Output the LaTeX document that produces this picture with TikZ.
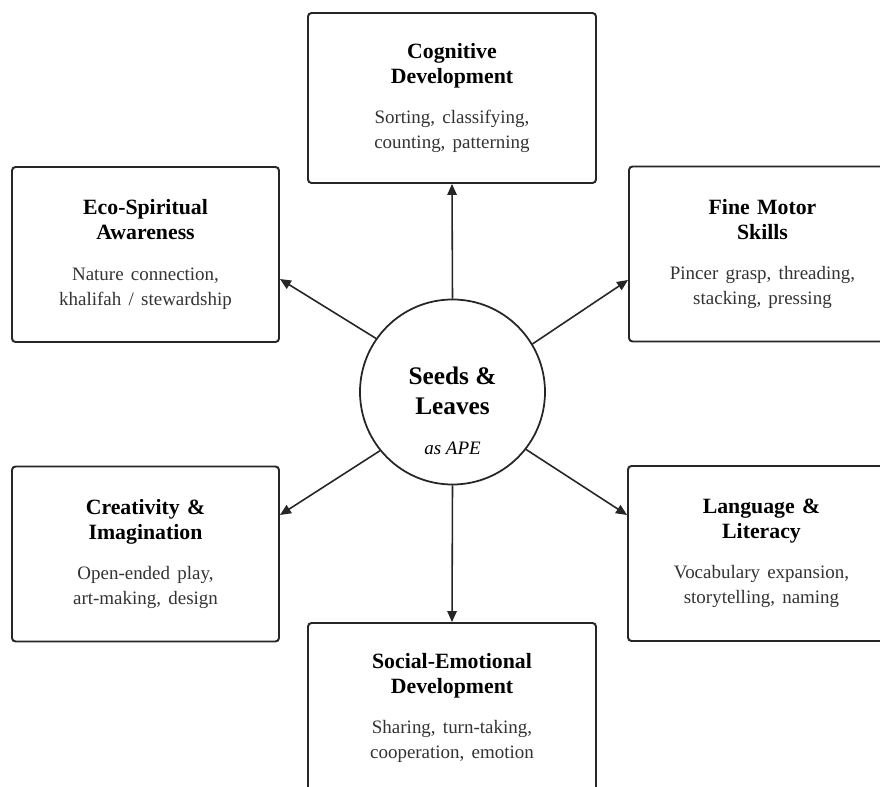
\documentclass[tikz,border=0pt]{standalone}
\usepackage{fontspec}
\setmainfont{Liberation Serif}
\usetikzlibrary{arrows.meta, positioning, calc}
\newcommand{\bdy}{\fontsize{10.8}{12}\selectfont\mdseries\color{black!80}}

\begin{document}
\begin{tikzpicture}[
  area/.style={rectangle, draw=black!85, line width=1.1pt, rounded corners=2pt, fill=white, align=center, text width=4.8cm, minimum width=5.34cm, minimum height=3.5cm, font=\fontsize{12.4}{14.2}\selectfont\bfseries},
  hub/.style={circle, draw=black!85, line width=1pt, minimum size=3.7cm, fill=white},
  arr/.style={-{Triangle[length=2.2mm, width=1.9mm]}, line width=0.9pt, draw=black!85, fill=black!85}
]
\clip (0,0) rectangle (17.6,-15.74);
\fill[white] (0,0) rectangle (17.6,-15.74);
% centre
\node[hub] (seed) at (9.05,-7.84) {};
\node[align=center, font=\fontsize{14.4}{17}\selectfont\bfseries] (seedtxt) at ([yshift=-0.38cm]seed.center) {Seeds \&\\Leaves\\[6pt]\fontsize{10.8}{12}\selectfont\mdseries\itshape as APE};
% areas
\node[area, minimum width=5.76cm, minimum height=3.4cm] (cog) at (9.04,-1.96) {Cognitive\\Development\\[11pt]\bdy Sorting, classifying,\\\bdy counting, patterning};
\node[area] (eco) at (2.91,-5.09) {Eco-Spiritual\\Awareness\\[11pt]\bdy Nature connection,\\\bdy khalifah / stewardship};
\node[area] (fine) at (15.25,-5.08) {Fine Motor\\Skills\\[11pt]\bdy Pincer grasp, threading,\\\bdy stacking, pressing};
\node[area] (cre) at (2.91,-11.08) {Creativity \&\\Imagination\\[11pt]\bdy Open-ended play,\\\bdy art-making, design};
\node[area] (lang) at (15.23,-11.07) {Language \&\\Literacy\\[11pt]\bdy Vocabulary expansion,\\\bdy storytelling, naming};
\node[area, minimum width=5.76cm, minimum height=3.4cm] (soc) at (9.04,-14.16) {Social-Emotional\\Development\\[11pt]\bdy Sharing, turn-taking,\\\bdy cooperation, emotion};
% arrows
\draw[arr] (seed.north) -- (cog.south);
\draw[arr] (seed.south) -- (soc.north);
\draw[arr] (seed.145) -- ([yshift=-0.49cm]eco.east);
\draw[arr] (seed.31) -- ([yshift=-0.52cm]fine.west);
\draw[arr] (seed.219) -- ([yshift=0.78cm]cre.east);
\draw[arr] (seed.322) -- ([yshift=0.77cm]lang.west);
\end{tikzpicture}
\end{document}
